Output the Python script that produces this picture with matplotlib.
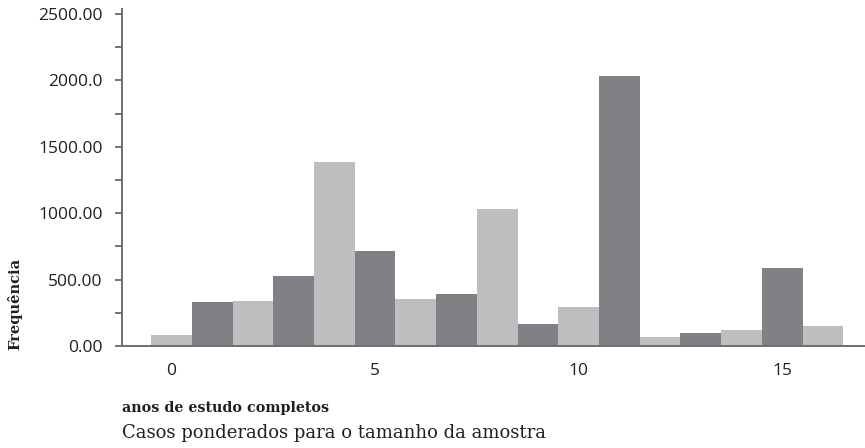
import matplotlib
matplotlib.use('Agg')
import matplotlib.pyplot as plt
from matplotlib.ticker import MultipleLocator, FixedFormatter, FixedLocator

# anos de estudo completos (0..16) e frequencias ponderadas
anos = list(range(17))
freq = [83, 331, 339, 527, 1386, 715, 354, 392, 1032,
        166, 294, 2033, 68, 98, 120, 587, 151]

light = '#bdbec0'
dark = '#808184'
axis_col = '#6d6e71'
cores = [light if i % 2 == 0 else dark for i in anos]

ytick_vals = [0, 500, 1000, 1500, 2000, 2500]
ytick_labels = ['0.00', '500.00', '1000.00', '1500.00', '2000.0', '2500.00']
xtick_vals = [0, 5, 10, 15]

W, H = 865, 448
fig = plt.figure(figsize=(W / 100, H / 100), dpi=100)
ax = fig.add_axes([122 / W, (H - 346) / H, (864 - 122) / W, (346 - 9) / H])

ax.bar(anos, freq, width=1.0, color=cores, linewidth=0)

ax.set_xlim(-1.216, 17.01)
ax.set_ylim(0, 2538)

for s in ['top', 'right']:
    ax.spines[s].set_visible(False)
for s in ['left', 'bottom']:
    ax.spines[s].set_color(axis_col)
    ax.spines[s].set_linewidth(1.4)

ax.yaxis.set_major_locator(FixedLocator(ytick_vals))
ax.yaxis.set_major_formatter(FixedFormatter(ytick_labels))
ax.yaxis.set_minor_locator(MultipleLocator(250))
ax.tick_params(axis='y', which='both', length=5, width=1.1, color='#4d4d4f',
               pad=9, labelsize=12.5, labelcolor='#231f20')
ax.set_xticks(xtick_vals)
ax.tick_params(axis='x', length=0, pad=12, labelsize=12.5, labelcolor='#231f20')
for lab in ax.get_xticklabels() + ax.get_yticklabels():
    lab.set_family('Open Sans')

fig.text(15 / W, 1 - 304 / H, 'Frequência', rotation=90, ha='center', va='center',
         family='DejaVu Serif', weight='bold', fontsize=10.5, color='#231f20')
fig.text(122 / W, 1 - 408 / H, 'anos de estudo completos', ha='left', va='center',
         family='DejaVu Serif', weight='bold', fontsize=10.3, color='#231f20')
fig.text(122 / W, 1 - 433 / H, 'Casos ponderados para o tamanho da amostra',
         ha='left', va='center', family='DejaVu Serif', fontsize=13, color='#231f20')

fig.savefig('out.png', dpi=100)
